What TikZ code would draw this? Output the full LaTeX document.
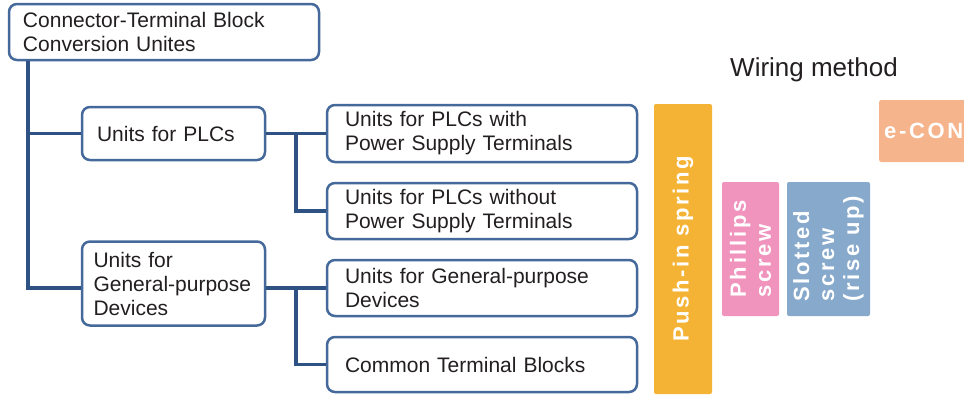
\documentclass[tikz,border=0pt]{standalone}
\usepackage{fontspec}
\setmainfont{Liberation Sans}
\newfontfamily\tagfont{Liberation Sans}[LetterSpace=12]
\usetikzlibrary{positioning}
\definecolor{navy}{HTML}{2D5283}
\definecolor{frame}{HTML}{44699A}
\definecolor{ink}{HTML}{231F20}
\definecolor{amber}{HTML}{F5B335}
\definecolor{rose}{HTML}{F093BD}
\definecolor{steel}{HTML}{87A9CC}
\definecolor{salmon}{HTML}{F5B48C}

\begin{document}
\begin{tikzpicture}[x=1pt,y=-1pt,
  unit/.style={draw=frame,line width=2.5pt,fill=white,rounded corners=8pt,text=ink,align=left,
    font=\fontsize{21}{24}\selectfont,text width=#1,inner xsep=15pt,inner ysep=0pt},
  link/.style={draw=navy,line width=3.2pt},
  tag/.style={fill=#1,rounded corners=2pt,text=white,font=\tagfont\bfseries\fontsize{22}{25}\selectfont,
    align=left,inner sep=0pt}]
  \clip (0,0) rectangle (964,394);
  % tree of units
  \node[unit=282pt,inner xsep=14pt,minimum height=56pt] (root) at (164,32) {Connector-Terminal Block\\Conversion Unites};
  \node[unit=153pt,minimum height=53pt] (plc) at (173.5,133.5) {Units for PLCs};
  \node[unit=160pt,inner xsep=11.5pt,minimum height=84pt] (gp) at (173.5,283.5) {Units for\\General-purpose\\Devices};
  \node[unit=274pt,inner xsep=18pt,minimum height=57pt] (plcw) at (482,133.5) {Units for PLCs with\\Power Supply Terminals};
  \node[unit=274pt,inner xsep=18pt,minimum height=56pt] (plcwo) at (482,211) {Units for PLCs without\\Power Supply Terminals};
  \node[unit=274pt,inner xsep=18pt,minimum height=56pt] (gpd) at (482,288) {Units for General-purpose\\Devices};
  \node[unit=274pt,inner xsep=18pt,minimum height=55pt] (ctb) at (482,364.5) {Common Terminal Blocks};
  \coordinate (trunk) at (28,0);
  \coordinate (fork) at (296,0);
  \draw[link] (root.south -| trunk) |- (plc.west);
  \draw[link] (root.south -| trunk) |- (gp.west |- gpd.west);
  \draw[link] (plc.east) -- (plcw.west);
  \draw[link] (plc.east -| fork) |- (plcwo.west);
  \draw[link] (gp.east |- gpd.west) -- (gpd.west);
  \draw[link] (gpd.west -| fork) |- (ctb.west);
  % wiring methods
  \node[font=\fontsize{26}{30}\selectfont,text=ink,inner sep=0pt,anchor=base west] (wiring) at (730,76) {Wiring method};
  \node[tag=amber,rotate=90,minimum width=290pt,minimum height=58pt] (push) at (683,249) {Push-in spring};
  \node[tag=rose,rotate=90,minimum width=134pt,minimum height=57pt] (phil) at (750.5,249) {Phillips\\screw};
  \node[tag=steel,rotate=90,minimum width=134pt,minimum height=83pt] (slot) at (828.5,249) {Slotted\\screw\\(rise up)};
  \node[tag=salmon,anchor=west,text width=95pt,inner xsep=5pt,minimum height=62pt] (econ) at (879,131) {e-CON};
\end{tikzpicture}
\end{document}
